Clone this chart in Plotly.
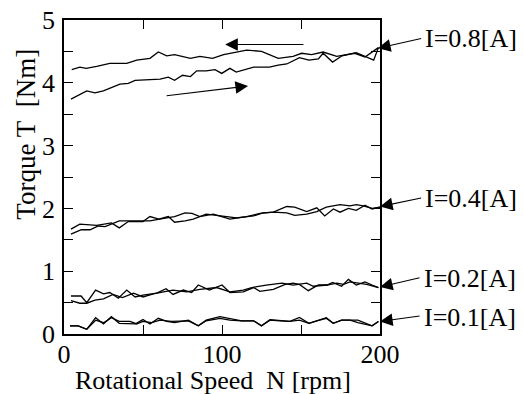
import plotly.graph_objects as go

# ---- data (rpm, Nm) ----
x08_up = [4.4, 14.4, 19.6, 24.9, 35.4, 40.7, 45, 60.8, 66, 70, 75, 80, 84, 90, 95.6, 99.8, 105, 109, 120, 130,
          135.6, 141, 149, 155, 161, 164, 170, 176, 185, 196, 199]
y08_up = [3.74, 3.87, 3.84, 3.87, 3.98, 3.99, 4.04, 4.06, 4.09, 4.04, 4.12, 4.10, 4.19, 4.19, 4.21, 4.15, 4.23,
          4.17, 4.25, 4.25, 4.28, 4.30, 4.40, 4.36, 4.38, 4.47, 4.33, 4.43, 4.48, 4.36, 4.56]
x08_dn = [4.9, 10, 14, 20.7, 29, 39.7, 46, 54.4, 59.7, 65, 70, 80, 86, 94, 101, 107, 115.6, 125, 135.6, 145,
          150.4, 156.7, 164, 172.6, 184, 190.5, 199]
y08_dn = [4.21, 4.25, 4.23, 4.26, 4.31, 4.31, 4.36, 4.39, 4.49, 4.43, 4.45, 4.39, 4.42, 4.39, 4.45, 4.48, 4.52,
          4.50, 4.39, 4.42, 4.47, 4.45, 4.49, 4.42, 4.47, 4.41, 4.56]

x04_a = [4.4, 10, 20.7, 30, 35, 40.7, 50, 54.4, 60, 66, 70, 76.6, 81.8, 90, 103, 109, 120, 126, 132.5, 141, 146,
         153.6, 160, 165, 170.5, 174.7, 180, 185, 190.5, 195, 200]
y04_a = [1.67, 1.75, 1.73, 1.77, 1.69, 1.79, 1.79, 1.87, 1.83, 1.87, 1.78, 1.80, 1.83, 1.91, 1.87, 1.85, 1.88,
         1.93, 1.94, 2.03, 2.02, 1.95, 2.01, 1.88, 1.99, 1.94, 2.00, 1.97, 2.05, 1.99, 2.02]
x04_b = [4.4, 11, 16.5, 21.7, 26, 31, 35, 46, 54.4, 65, 70, 76.6, 81, 86, 94.5, 105, 115.6, 124, 132.5, 141, 146,
         153.6, 160, 166, 174.7, 181, 185, 189.4, 195, 200]
y04_b = [1.59, 1.66, 1.66, 1.72, 1.71, 1.76, 1.80, 1.80, 1.80, 1.85, 1.87, 1.93, 1.92, 1.87, 1.91, 1.83, 1.87,
         1.92, 1.94, 1.93, 1.89, 1.91, 1.95, 2.02, 2.06, 2.04, 2.06, 2.04, 2.00, 2.02]

x02_a = [4.4, 10.8, 14.4, 20, 25, 29, 34.4, 39.7, 45, 50, 58.7, 64.6, 69, 75.5, 80.8, 85, 92, 100, 105, 113.5,
         120, 124, 132.5, 140, 145, 149, 154.6, 161, 166.5, 170, 175.7, 180, 185, 190.5, 195, 199]
y02_a = [0.605, 0.605, 0.50, 0.70, 0.64, 0.66, 0.57, 0.70, 0.59, 0.62, 0.65, 0.72, 0.63, 0.70, 0.66, 0.78, 0.70,
         0.78, 0.66, 0.67, 0.74, 0.68, 0.71, 0.79, 0.81, 0.79, 0.69, 0.78, 0.78, 0.82, 0.76, 0.87, 0.78, 0.83,
         0.78, 0.74]
x02_b = [4.4, 10, 14.4, 19.6, 25, 31, 37, 44, 50, 56.5, 63, 69, 77.6, 86, 96.6, 105, 113.5, 118.8, 128, 138, 145,
         153.6, 157.8, 166.5, 172.6, 176.9, 181, 186, 191.6, 199]
y02_b = [0.53, 0.49, 0.49, 0.54, 0.56, 0.63, 0.58, 0.65, 0.59, 0.64, 0.67, 0.70, 0.67, 0.71, 0.74, 0.67, 0.70,
         0.74, 0.78, 0.81, 0.78, 0.81, 0.76, 0.78, 0.81, 0.79, 0.83, 0.81, 0.79, 0.74]

x01_a = [3.8, 9, 14.4, 20, 25, 30, 35, 41.8, 45, 50, 54.4, 59.7, 65, 70, 78.7, 85, 90, 98.7, 105, 112.5, 120, 125,
         130.4, 136.7, 143, 149, 155, 160, 166, 170.4, 175.7, 181, 186, 195, 199]
y01_a = [0.13, 0.13, 0.075, 0.26, 0.16, 0.275, 0.17, 0.17, 0.16, 0.23, 0.16, 0.25, 0.20, 0.18, 0.22, 0.13, 0.22,
         0.275, 0.25, 0.21, 0.21, 0.13, 0.23, 0.22, 0.20, 0.265, 0.17, 0.21, 0.26, 0.17, 0.22, 0.22, 0.18, 0.13,
         0.20]
x01_b = [3.8, 9, 14.4, 20, 25, 30, 35, 41.8, 46, 50, 55.5, 60.8, 68, 78.7, 85, 90, 98.7, 105, 112.5, 120, 125,
         130.4, 136.7, 143, 149, 155, 160, 166, 170.4, 175.7, 181, 186, 195, 199]
y01_b = [0.13, 0.13, 0.075, 0.22, 0.18, 0.26, 0.20, 0.20, 0.16, 0.20, 0.18, 0.22, 0.20, 0.21, 0.13, 0.21, 0.25,
         0.22, 0.21, 0.21, 0.13, 0.22, 0.21, 0.20, 0.22, 0.17, 0.21, 0.25, 0.17, 0.22, 0.22, 0.22, 0.13, 0.20]

# labels with arrow tips / tails (data coords)
label_texts = ["I=0.8[A]", "I=0.4[A]", "I=0.2[A]", "I=0.1[A]"]
label_tip_x = [198.7, 200, 200, 200]
label_tip_y = [4.55, 2.03, 0.75, 0.20]
label_tail_x = [227, 227, 226, 226]
label_tail_y = [4.71, 2.17, 0.90, 0.29]
label_text_y = [4.70, 2.16, 0.89, 0.26]

# direction arrows (tail -> tip)
dir_tail_x = [152.5, 64]
dir_tail_y = [4.61, 3.79]
dir_tip_x = [102, 116.5]
dir_tip_y = [4.61, 3.95]

x_tickvals = [0, 50, 100, 150, 200]
x_ticktext = ["0", "", "100", "", "200"]
y_tickvals = [0, 0.5, 1, 1.5, 2, 2.5, 3, 3.5, 4, 4.5, 5]
y_ticktext = ["0", "", "1", "", "2", "", "3", "", "4", "", "5"]

X_MAX, Y_MAX = 200.0, 5.0
FONT = "Liberation Serif, Times New Roman, serif"
NB = "\u00a0"

fig = go.Figure()
for xs, ys in [(x08_up, y08_up), (x08_dn, y08_dn), (x04_a, y04_a), (x04_b, y04_b),
               (x02_a, y02_a), (x02_b, y02_b), (x01_a, y01_a), (x01_b, y01_b)]:
    fig.add_trace(go.Scatter(x=xs, y=ys, mode="lines", line=dict(color="black", width=1.3),
                             showlegend=False, hoverinfo="skip"))

anns = []
for t, tx, ty, ax, ay, yy in zip(label_texts, label_tip_x, label_tip_y, label_tail_x, label_tail_y, label_text_y):
    anns.append(dict(x=tx, y=ty, ax=ax, ay=ay, xref="x", yref="y", axref="x", ayref="y", text="",
                     showarrow=True, arrowhead=2, arrowsize=2.3, arrowwidth=1.1, arrowcolor="black"))
    anns.append(dict(x=(ax + 0.5) / X_MAX, y=yy / Y_MAX, xref="paper", yref="paper", text=t, showarrow=False,
                     xanchor="left", yanchor="middle", font=dict(family=FONT, size=26, color="black")))
for ax, ay, tx, ty in zip(dir_tail_x, dir_tail_y, dir_tip_x, dir_tip_y):
    anns.append(dict(x=tx, y=ty, ax=ax, ay=ay, xref="x", yref="y", axref="x", ayref="y", text="",
                     showarrow=True, arrowhead=2, arrowsize=2.3, arrowwidth=1.1, arrowcolor="black"))

anns.append(dict(x=-0.120, y=0.635, xref="paper", yref="paper", text="Torque T" + NB * 2 + "[Nm]", textangle=-90,
                 showarrow=False, xanchor="center", yanchor="middle", font=dict(family=FONT, size=27, color="black")))
anns.append(dict(x=0.47, y=-0.148, xref="paper", yref="paper", text="Rotational Speed" + NB * 2 + "N [rpm]",
                 showarrow=False, xanchor="center", yanchor="middle", font=dict(family=FONT, size=26, color="black")))

fig.update_layout(
    width=524, height=394,
    margin=dict(l=64, r=144, t=20, b=60),
    paper_bgcolor="white", plot_bgcolor="white",
    font=dict(family=FONT, size=26, color="black"),
    annotations=anns,
    xaxis=dict(range=[0, X_MAX], tickvals=x_tickvals, ticktext=x_ticktext, ticks="inside", ticklen=9,
               tickcolor="black", tickwidth=1.2, showline=True, linecolor="black", linewidth=1.5, mirror="ticks",
               showgrid=False, zeroline=False, tickfont=dict(family=FONT, size=26), automargin=False,
               ticklabelstandoff=-4),
    yaxis=dict(range=[0, Y_MAX], tickvals=y_tickvals, ticktext=y_ticktext, ticks="inside", ticklen=9,
               tickcolor="black", tickwidth=1.2, showline=True, linecolor="black", linewidth=1.5, mirror="ticks",
               showgrid=False, zeroline=False, tickfont=dict(family=FONT, size=26), ticklabelstandoff=2,
               automargin=False),
)

fig.write_html("out.html", config={"displayModeBar": False},
               post_script="document.body.style.margin='0';document.body.style.overflow='hidden';")
